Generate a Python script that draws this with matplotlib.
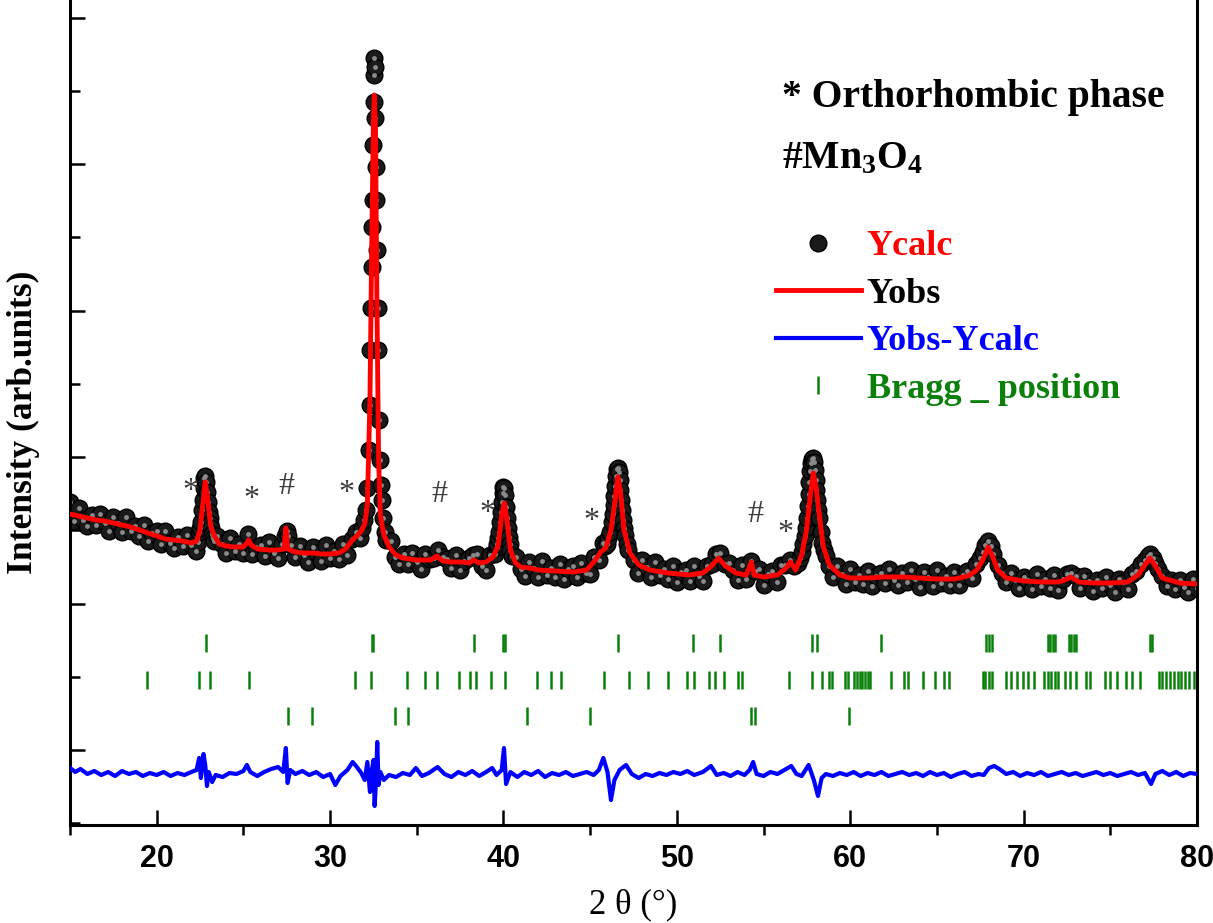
import matplotlib
matplotlib.use('Agg')
import matplotlib.pyplot as plt
from matplotlib.ticker import MultipleLocator

# ---- data (intensity in arbitrary units) ----
obs_tt = [15.0, 15.25, 15.5, 15.75, 16.0, 16.25, 16.5, 16.75, 17.0, 17.25, 17.5, 17.75, 18.0, 18.25, 18.5, 18.75,
          19.0, 19.25, 19.5, 19.75, 20.0, 20.25, 20.5, 20.75, 21.0, 21.25, 21.5, 21.75, 22.0, 22.25,
          22.35, 22.4, 22.45, 22.5, 22.55, 22.6, 22.65, 22.7, 22.75, 22.8, 22.85, 22.9, 22.95, 23.0, 23.05, 23.1,
          23.15, 23.2, 23.25, 23.3, 23.5, 23.75, 24.0, 24.25, 24.5, 24.75, 25.0, 25.25, 25.5, 25.75, 26.0, 26.25,
          26.5, 26.75, 27.0, 27.25, 27.4, 27.5, 27.6, 27.75, 28.0, 28.25, 28.5, 28.75, 29.0, 29.25, 29.5, 29.75,
          30.0, 30.25, 30.5, 30.75, 31.0, 31.25, 31.5, 31.75, 31.85, 31.95, 32.05, 32.15, 32.22, 32.28, 32.33, 32.37,
          32.41, 32.44, 32.47, 32.5, 32.52, 32.54, 32.56, 32.58, 32.6, 32.63, 32.66, 32.7, 32.74, 32.78, 32.83, 32.88,
          32.94, 33.0, 33.08, 33.16, 33.25, 33.5, 33.75, 34.0, 34.25, 34.5, 34.75, 35.0, 35.25, 35.5, 35.75, 36.0,
          36.25, 36.5, 36.75, 37.0, 37.25, 37.5, 37.75, 38.0, 38.25, 38.5, 38.75, 39.0, 39.25, 39.5, 39.6, 39.65,
          39.7, 39.75, 39.8, 39.85, 39.9, 39.95, 40.0, 40.05, 40.1, 40.15, 40.2, 40.25, 40.3, 40.35, 40.4, 40.5,
          40.75, 41.0, 41.25, 41.5, 41.75, 42.0, 42.25, 42.5, 42.75, 43.0, 43.25, 43.5, 43.75, 44.0, 44.25, 44.5,
          44.75, 45.0, 45.25, 45.5, 45.75, 45.85, 45.95, 46.05, 46.15, 46.25, 46.3, 46.35, 46.4, 46.45, 46.5, 46.55,
          46.6, 46.65, 46.7, 46.75, 46.8, 46.85, 46.9, 46.95, 47.0, 47.1, 47.2, 47.5, 47.75, 48.0, 48.25, 48.5,
          48.75, 49.0, 49.25, 49.5, 49.75, 50.0, 50.25, 50.5, 50.75, 51.0, 51.25, 51.5, 51.75, 52.0, 52.25, 52.5,
          52.75, 53.0, 53.25, 53.5, 53.75, 54.0, 54.25, 54.5, 54.75, 55.0, 55.25, 55.5, 55.75, 56.0, 56.25, 56.5,
          56.75, 57.0, 57.1, 57.2, 57.3, 57.4, 57.45, 57.5, 57.55, 57.6, 57.65, 57.7, 57.75, 57.8, 57.85, 57.9,
          57.95, 58.0, 58.05, 58.1, 58.15, 58.2, 58.3, 58.4, 58.5, 58.6, 58.75, 59.0, 59.25, 59.5, 59.75, 60.0,
          60.25, 60.5, 60.75, 61.0, 61.25, 61.5, 61.75, 62.0, 62.25, 62.5, 62.75, 63.0, 63.25, 63.5, 63.75, 64.0,
          64.25, 64.5, 64.75, 65.0, 65.25, 65.5, 65.75, 66.0, 66.25, 66.5, 66.75, 67.0, 67.25, 67.5, 67.65, 67.8,
          67.95, 68.1, 68.25, 68.5, 68.75, 69.0, 69.25, 69.5, 69.75, 70.0, 70.25, 70.5, 70.75, 71.0, 71.25, 71.5,
          71.75, 72.0, 72.25, 72.5, 72.75, 73.0, 73.25, 73.5, 73.75, 74.0, 74.25, 74.5, 74.75, 75.0, 75.25, 75.5,
          75.75, 76.0, 76.25, 76.5, 76.75, 77.0, 77.15, 77.3, 77.45, 77.6, 77.75, 78.0, 78.25, 78.5, 78.75, 79.0,
          79.25, 79.5, 79.75, 80.0]
obs_int = [248, 229, 242, 230, 224, 235, 225, 236, 227, 219, 233, 227, 218, 233, 219, 224,
           214, 225, 209, 217, 219, 206, 219, 207, 202, 213, 204, 215, 205, 199,
           212, 208, 218, 222, 228, 240, 250, 262, 272, 274, 268, 258, 248, 238, 232, 226,
           222, 216, 212, 209, 214, 206, 197, 212, 199, 206, 197, 216, 196, 203, 205, 194,
           208, 197, 192, 206, 214, 219, 214, 205, 193, 204, 195, 188, 203, 197, 189, 205,
           192, 199, 191, 206, 195, 211, 218, 212, 222, 230, 240, 262, 300, 345, 400, 442,
           483, 523, 550, 605, 648, 675, 692, 683, 632, 583, 550, 500, 442, 400, 330, 290,
           265, 250, 232, 218, 210, 209, 193, 186, 196, 186, 197, 188, 181, 196, 191, 192,
           200, 193, 191, 182, 195, 180, 189, 192, 195, 196, 184, 180, 195, 196, 203, 206,
           212, 218, 228, 238, 248, 257, 263, 262, 255, 243, 232, 222, 213, 206, 200, 194,
           193, 181, 174, 188, 182, 173, 189, 175, 182, 173, 186, 171, 181, 184, 173, 187,
           177, 176, 193, 190, 207, 204, 206, 212, 218, 228, 236, 245, 254, 264, 274, 281,
           282, 278, 270, 260, 250, 240, 230, 222, 215, 206, 200, 190, 177, 190, 183, 173,
           188, 175, 181, 171, 184, 168, 178, 180, 169, 184, 174, 169, 184, 186, 196, 197,
           186, 187, 180, 170, 185, 171, 189, 179, 181, 165, 176, 179, 168, 185, 185, 190,
           184, 187, 192, 198, 206, 214, 222, 232, 244, 256, 268, 279, 287, 291, 292, 288,
           280, 270, 260, 250, 240, 232, 218, 207, 200, 194, 184, 173, 184, 176, 166, 181,
           168, 175, 166, 179, 164, 174, 177, 167, 181, 170, 165, 177, 168, 180, 171, 163,
           178, 173, 164, 180, 167, 174, 165, 178, 165, 175, 179, 172, 186, 192, 198, 205,
           209, 204, 196, 185, 177, 168, 177, 170, 162, 173, 170, 161, 176, 164, 171, 162,
           175, 160, 171, 176, 177, 174, 162, 174, 169, 159, 170, 162, 173, 165, 158, 171,
           168, 161, 176, 179, 186, 190, 194, 196, 192, 187, 181, 174, 164, 170, 161, 170,
           163, 158, 171, 162]

calc_tt = [15.0, 15.5, 16.0, 16.5, 17.0, 17.5, 18.0, 18.5, 19.0, 19.5, 20.0, 20.5, 21.0, 21.5, 22.0, 22.3,
           22.5, 22.65, 22.8, 22.95, 23.1, 23.3, 23.6, 24.0, 24.5, 25.0, 25.2, 25.3, 25.45, 25.8, 26.5, 27.0,
           27.35, 27.45, 27.55, 28.0, 28.5, 29.0, 29.5, 30.0, 30.5, 30.9, 31.2, 31.4, 31.6, 31.8, 32.0, 32.15,
           32.3, 32.4, 32.5, 32.55, 32.62, 32.7, 32.8, 32.9, 33.1, 33.4, 33.8, 34.2, 35.0, 35.8, 36.15, 36.5,
           37.0, 37.5, 38.0, 38.3, 38.6, 39.0, 39.4, 39.7, 39.9, 40.05, 40.2, 40.4, 40.7, 41.0, 41.5, 42.0,
           43.0, 44.0, 44.8, 45.3, 45.6, 45.9, 46.2, 46.4, 46.6, 46.75, 46.95, 47.3, 47.8, 48.45, 49.5, 50.7,
           51.5, 52.0, 52.4, 52.8, 53.4, 54.0, 54.3, 54.45, 55.0, 55.8, 56.3, 56.55, 56.85, 57.2, 57.48, 57.7,
           57.87, 58.05, 58.25, 58.45, 58.8, 59.4, 60.0, 61.0, 62.0, 63.0, 64.0, 65.0, 66.0, 66.8, 67.3, 67.7,
           67.95, 68.2, 68.5, 69.0, 70.0, 71.0, 72.0, 72.4, 72.7, 73.2, 74.0, 75.0, 76.0, 76.6, 77.0, 77.28,
           77.6, 78.0, 79.0, 80.0]
calc_int = [236, 234, 232, 230, 229, 227, 225, 223, 220, 217, 214, 211, 210, 209, 207, 209,
            220, 245, 268, 250, 225, 215, 206, 204, 203, 203, 207, 210, 205, 201, 200, 200,
            201, 222, 201, 198, 197, 197, 196, 196, 197, 201, 208, 212, 215, 219, 226, 245,
            350, 500, 630, 655, 620, 450, 290, 235, 215, 203, 195, 192, 190, 190, 194, 189,
            188, 188, 187, 190, 187, 188, 193, 205, 235, 247, 230, 200, 187, 183, 182, 180,
            179, 178, 180, 190, 198, 202, 220, 245, 273, 258, 220, 197, 185, 180, 177, 175,
            177, 184, 192, 184, 177, 175, 188, 175, 173, 175, 182, 188, 180, 195, 220, 255,
            277, 260, 230, 203, 185, 175, 172, 172, 173, 173, 172, 171, 171, 174, 180, 192,
            203, 194, 180, 172, 169, 168, 168, 170, 173, 168, 167, 167, 168, 175, 185, 192,
            184, 172, 167, 166]

diff_tt = [15.0, 15.3, 15.6, 16.0, 16.4, 16.8, 17.2, 17.6, 18.0, 18.4, 18.8, 19.2, 19.6, 20.0, 20.4, 20.8,
           21.2, 21.6, 22.0, 22.3, 22.45, 22.55, 22.7, 22.8, 22.9, 23.0, 23.2, 23.4, 23.8, 24.2, 24.6, 25.0,
           25.2, 25.4, 25.8, 26.2, 26.6, 27.0, 27.3, 27.45, 27.55, 27.7, 28.0, 28.4, 28.8, 29.2, 29.6, 30.0,
           30.3, 30.6, 31.0, 31.3, 31.5, 31.8, 32.0, 32.15, 32.3, 32.4, 32.5, 32.57, 32.65, 32.72, 32.8, 32.9,
           33.1, 33.4, 33.8, 34.2, 34.6, 34.95, 35.3, 35.7, 36.2, 36.6, 37.0, 37.4, 37.8, 38.2, 38.6, 39.0,
           39.35, 39.6, 39.9, 40.03, 40.15, 40.4, 40.8, 41.2, 41.6, 42.0, 42.4, 42.8, 43.2, 43.6, 44.0, 44.4,
           44.8, 45.2, 45.5, 45.76, 46.0, 46.2, 46.4, 46.7, 47.07, 47.4, 47.8, 48.2, 48.6, 49.0, 49.4, 49.8,
           50.2, 50.6, 51.0, 51.5, 51.97, 52.3, 52.7, 53.1, 53.5, 53.9, 54.2, 54.4, 54.6, 55.0, 55.4, 55.8,
           56.2, 56.6, 56.9, 57.2, 57.6, 57.9, 58.14, 58.35, 58.6, 59.0, 59.4, 59.8, 60.2, 60.6, 61.0, 61.4,
           61.8, 62.2, 62.6, 63.0, 63.4, 63.8, 64.2, 64.6, 65.0, 65.4, 65.8, 66.2, 66.6, 67.0, 67.4, 67.7,
           68.0, 68.3, 68.6, 69.0, 69.4, 69.8, 70.2, 70.6, 71.0, 71.4, 71.8, 72.2, 72.6, 73.0, 73.4, 73.8,
           74.2, 74.6, 75.0, 75.4, 75.8, 76.2, 76.6, 77.0, 77.35, 77.6, 78.0, 78.4, 78.8, 79.2, 79.6, 80.0]
diff_int = [-18, -22, -19, -24, -21, -25, -22, -26, -21, -24, -22, -26, -23, -25, -22, -26,
            -23, -25, -22, -20, -8, -28, -4, -15, -36, -22, -32, -25, -27, -23, -24, -21,
            -15, -22, -26, -22, -19, -17, -22, 2, -33, -20, -24, -21, -25, -22, -27, -24,
            -35, -26, -20, -12, -16, -23, -30, -12, -42, -22, -10, -56, -30, 8, -35, -22,
            -30, -25, -27, -23, -25, -18, -26, -23, -17, -24, -27, -22, -25, -21, -26, -22,
            -18, -25, -20, 2, -34, -22, -27, -22, -25, -21, -27, -23, -25, -22, -26, -24,
            -22, -25, -20, -8, -22, -50, -30, -20, -15, -24, -28, -24, -26, -23, -25, -22,
            -24, -21, -25, -22, -16, -25, -23, -26, -22, -25, -20, -12, -24, -26, -22, -24,
            -20, -16, -24, -26, -15, -30, -46, -28, -24, -26, -23, -25, -22, -26, -23, -25,
            -22, -26, -24, -22, -25, -23, -26, -22, -25, -23, -27, -24, -22, -26, -24, -25,
            -18, -16, -19, -24, -22, -26, -23, -25, -22, -26, -24, -22, -25, -23, -26, -24,
            -22, -25, -23, -26, -24, -22, -25, -23, -34, -24, -21, -25, -22, -26, -23, -24]

bragg_main = [22.84, 32.42, 32.5, 38.28, 40.0, 40.07, 46.6, 50.93, 52.48, 57.8, 58.1, 61.77, 67.85, 68.0,
              68.2, 71.4, 71.55, 71.7, 71.8, 72.6, 72.75, 72.9, 73.0, 77.3, 77.4]
bragg_ortho = [19.43, 22.46, 23.07, 25.3, 31.44, 32.38, 34.46, 35.5, 36.15, 37.45, 38.07, 38.41, 39.28,
               40.11, 41.92, 42.74, 43.3, 45.81, 47.22, 48.32, 49.49, 50.6, 50.97, 51.85, 52.19, 52.74,
               53.51, 53.78, 56.49, 57.77, 58.37, 58.8, 58.95, 59.7, 59.9, 60.24, 60.4, 60.55, 60.7, 60.85,
               61.0, 61.12, 62.34, 63.11, 63.33, 64.22, 64.88, 65.43, 65.69, 67.63, 67.8, 68.0, 68.19,
               68.96, 69.29, 69.62, 69.95, 70.28, 70.61, 71.2, 71.4, 71.6, 71.8, 72.0, 72.4, 72.7, 73.0,
               73.6, 73.8, 74.7, 75.0, 75.36, 75.9, 76.25, 76.7, 77.8, 78.0, 78.2, 78.45, 78.67, 78.89,
               79.1, 79.3, 79.55, 79.8]
bragg_mn3o4 = [27.57, 28.94, 33.72, 34.5, 41.36, 45.01, 54.28, 54.5, 59.91]
bragg_rows = [107, 70, 34]   # vertical level of each row of tick marks

peak_marks = ['*', '*', '#', '*', '#', '*', '*', '#', '*']
peak_mark_tt = [21.92, 25.44, 27.46, 30.97, 36.28, 39.05, 45.1, 54.56, 56.29]
peak_mark_int = [258, 251, 264, 256, 256, 236, 228, 235, 216]

# ---- figure ----
serif = 'Liberation Serif'
plt.rcParams['mathtext.fontset'] = 'custom'
plt.rcParams['mathtext.rm'] = 'Liberation Serif:bold'
plt.rcParams['mathtext.it'] = 'Liberation Serif:bold'
plt.rcParams['mathtext.bf'] = 'Liberation Serif:bold'

fig = plt.figure(figsize=(12.13, 9.23), dpi=100)
ax = fig.add_axes([70 / 1213, 98 / 923, 1127 / 1213, 825 / 923])

obs_line, = ax.plot(obs_tt, obs_int, ls='none', marker='o', ms=12, mfc='#1a1a1a', mec='black',
                    mew=1.0, zorder=2)
ax.plot(obs_tt, obs_int, ls='none', marker='o', ms=3.5, mfc='#8a8a8a', mec='none', zorder=2.1)
calc_line, = ax.plot(calc_tt, calc_int, color='#ff0000', lw=3.5, zorder=3)
diff_line, = ax.plot(diff_tt, diff_int, color='#0000ff', lw=3, zorder=3)

green = '#0b800b'
for positions, level in zip([bragg_main, bragg_ortho, bragg_mn3o4], bragg_rows):
    bragg_line, = ax.plot(positions, [level] * len(positions), ls='none', marker='|', ms=12.5,
                          mew=1.8, color=green, zorder=3)

for s, xx, yy in zip(peak_marks, peak_mark_tt, peak_mark_int):
    ax.text(xx, yy, s, fontsize=23, family=serif, color='#3c3c3c', ha='center', va='center')

ax.text(0.632, 0.882, '* Orthorhombic phase', transform=ax.transAxes, fontsize=28.5,
        family=serif, weight='bold', va='center', ha='left')
ax.text(0.632, 0.808, '#Mn$_3$O$_4$', transform=ax.transAxes, fontsize=28.5,
        family=serif, weight='bold', va='center', ha='left')

leg = ax.legend([obs_line, calc_line, diff_line, bragg_line],
                ['Ycalc', 'Yobs', 'Yobs-Ycalc', 'Bragg _ position'],
                labelcolor=['#ff0000', 'black', '#0000ff', green],
                prop={'family': serif, 'weight': 'bold', 'size': 26},
                frameon=False, loc='upper left', bbox_to_anchor=(0.626, 0.721),
                borderpad=0, borderaxespad=0, handlelength=2.38, handletextpad=0.15,
                labelspacing=0.39, numpoints=1)

ax.set_xlim(15, 80)
ax.set_ylim(-75, 750)
ax.xaxis.set_major_locator(MultipleLocator(10))
ax.xaxis.set_minor_locator(MultipleLocator(5))
ax.yaxis.set_major_locator(MultipleLocator(146.5))
ax.yaxis.set_minor_locator(MultipleLocator(73.25))
ax.tick_params(axis='x', which='major', direction='in', length=11, width=1.8, pad=14)
ax.tick_params(axis='x', which='minor', direction='out', length=7, width=1.8)
ax.tick_params(axis='y', which='major', direction='in', length=11, width=1.8)
ax.tick_params(axis='y', which='minor', direction='in', length=7, width=1.8)
ax.tick_params(axis='y', which='both', labelleft=False)
for lab in ax.get_xticklabels():
    lab.set_family('Liberation Sans')
    lab.set_weight('bold')
    lab.set_fontsize(22)

ax.spines['top'].set_visible(False)
for side in ['left', 'bottom', 'right']:
    ax.spines[side].set_linewidth(2.2)

ax.set_xlabel('2 θ (°)', family=serif, fontsize=25, labelpad=10)
ax.set_ylabel('Intensity (arb.units)', family=serif, weight='bold', fontsize=25.5)
ax.yaxis.set_label_coords(-0.027, 0.488)

fig.savefig('out.png', dpi=100)
